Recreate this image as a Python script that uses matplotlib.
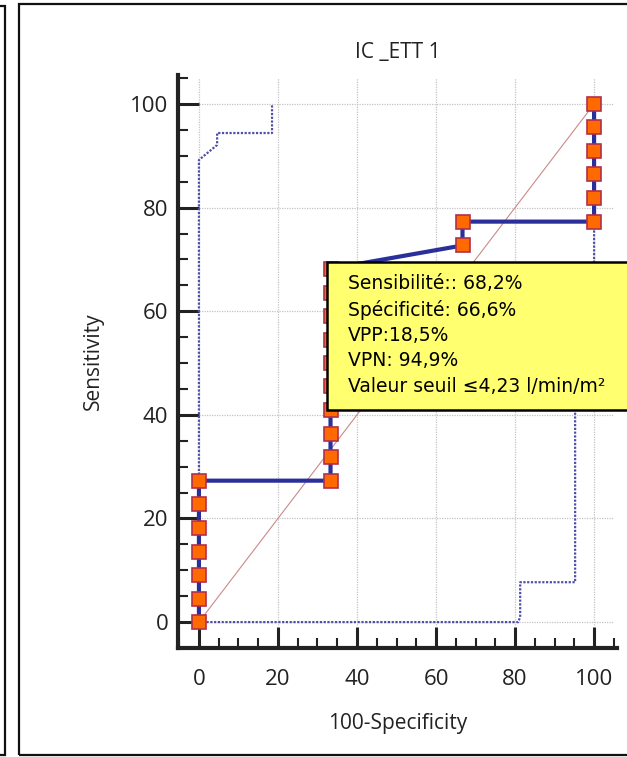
import matplotlib
matplotlib.use('Agg')
import matplotlib.pyplot as plt
from matplotlib.patches import Rectangle
from matplotlib.ticker import MultipleLocator

# ROC points (100-specificity, sensitivity)
roc_x = [0, 0, 0, 0, 0, 0, 0,
         33.3, 33.3, 33.3, 33.3, 33.3, 33.3, 33.3, 33.3, 33.3, 33.3,
         66.7, 66.7,
         100, 100, 100, 100, 100, 100]
roc_y = [0, 4.5, 9.1, 13.6, 18.2, 22.7, 27.3,
         27.3, 31.8, 36.4, 40.9, 45.5, 50.0, 54.5, 59.1, 63.6, 68.2,
         72.7, 77.3,
         77.3, 81.8, 86.4, 90.9, 95.5, 100]

# confidence bounds (dotted)
upper_x = [0, 0, 4.6, 4.6, 18.5, 18.5]
upper_y = [0, 89.2, 92.1, 94.4, 94.4, 100]
lower_x = [0, 80.8, 81.3, 81.3, 95.2, 95.2, 96.0, 100, 100]
lower_y = [0, 0, 1.0, 7.7, 7.7, 48.0, 50.0, 60.0, 77.3]

ticks = [0, 20, 40, 60, 80, 100]
title = 'IC _ETT 1'
info = ('Sensibilité:: 68,2%\nSpécificité: 66,6%\nVPP:18,5%\n'
        'VPN: 94,9%\nValeur seuil ≤4,23 l/min/m²')

W, H = 627, 757
fig = plt.figure(figsize=(W / 100, H / 100), dpi=100)
ax = fig.add_axes([178 / W, 1 - 648 / H, (617 - 178) / W, (648 - 75) / H])

ax.set_xlim(-5.3, 105.8)
ax.set_ylim(-5.0, 105.6)

# grid
grid_kw = dict(color='#c4c4c4', lw=0.9, linestyle=(0, (1, 1)), zorder=0)
ax.hlines(ticks, 0, 105, **grid_kw)
ax.vlines(ticks, -0.6, 105, **grid_kw)

# diagonal
ax.plot([0, 100], [0, 100], color='#c98a8a', lw=0.8, zorder=1)

# confidence bounds
ax.plot(upper_x, upper_y, color='#5050a8', lw=1.6, linestyle=(0, (1, 0.7)), zorder=2)
ax.plot(lower_x, lower_y, color='#5050a8', lw=1.6, linestyle=(0, (1, 0.7)), zorder=2)

# ROC curve
ax.plot(roc_x, roc_y, color='#2b2f9a', lw=3, zorder=3,
        marker='s', markersize=9.8, markerfacecolor='#ff6a00',
        markeredgecolor='#b0304a', markeredgewidth=1.2)

for s in ['top', 'right']:
    ax.spines[s].set_visible(False)
for s in ['left', 'bottom']:
    ax.spines[s].set_linewidth(3)
    ax.spines[s].set_color('#222222')

ax.set_xticks(ticks)
ax.set_yticks(ticks)
ax.xaxis.set_minor_locator(MultipleLocator(5))
ax.yaxis.set_minor_locator(MultipleLocator(5))
ax.tick_params(which='major', direction='in', length=15, width=2.2,
               color='#222222', labelsize=16, labelcolor='#222222')
ax.tick_params(axis='y', which='major', pad=7)
ax.tick_params(axis='x', which='major', pad=15)
ax.tick_params(which='minor', direction='in', length=7.5, width=1.5, color='#222222')
for lab in ax.get_xticklabels() + ax.get_yticklabels():
    lab.set_family('Open Sans')

ax.set_title(title, fontsize=15, family='Open Sans', color='#222222', pad=12)
ax.set_xlabel('100-Specificity', fontsize=15, family='Open Sans', color='#222222', labelpad=17)
ax.set_ylabel('Sensitivity', fontsize=15, family='Open Sans', color='#222222', labelpad=19)

# frames
fig.add_artist(Rectangle((-20 / W, 1 - 755 / H), 25 / W, (755 - 6) / H,
                         transform=fig.transFigure, fill=False, lw=1.6, ec='#111111'))
fig.add_artist(Rectangle((19 / W, 1 - 755 / H), 640 / W, (755 - 4) / H,
                         transform=fig.transFigure, fill=False, lw=1.6, ec='#111111'))

# info box
fig.add_artist(Rectangle((327 / W, 1 - 410 / H), 320 / W, (410 - 262) / H,
                         transform=fig.transFigure, fc='#ffff70', ec='black', lw=1.8, zorder=5))
fig.text(348 / W, 1 - 274 / H, info, fontsize=13.5, family='DejaVu Sans',
         va='top', ha='left', linespacing=1.42, zorder=6)

fig.savefig('out.png', dpi=100)
